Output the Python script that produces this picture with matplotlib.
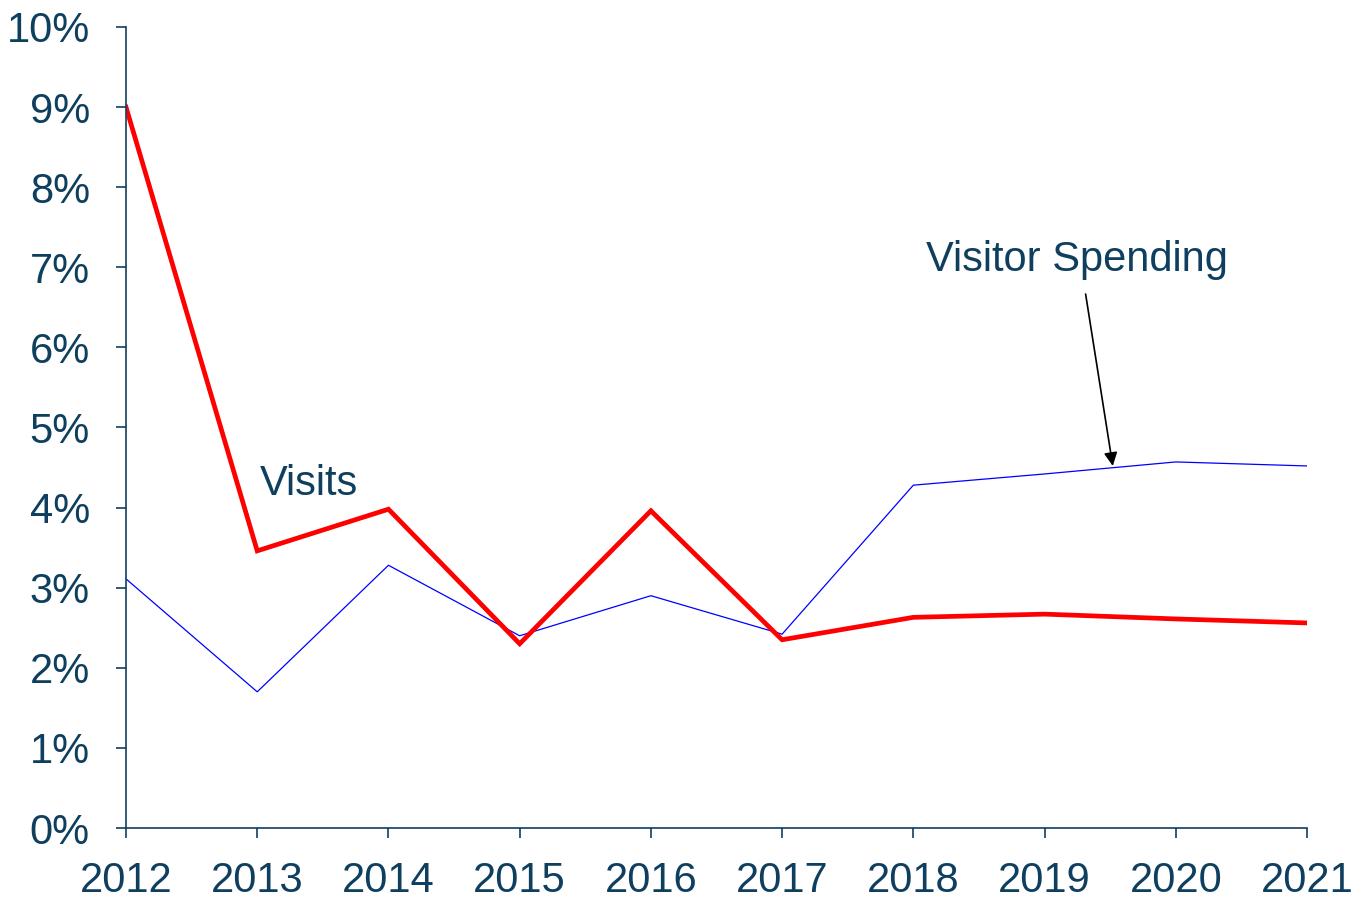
import matplotlib.pyplot as plt
from matplotlib.ticker import FuncFormatter

plt.rcParams["font.family"] = ["Liberation Sans", "DejaVu Sans"]

TEXT_COLOR = "#0F3F5F"

years = [2012, 2013, 2014, 2015, 2016, 2017, 2018, 2019, 2020, 2021]
visits = [9.0, 3.46, 3.98, 2.30, 3.96, 2.35, 2.63, 2.67, 2.61, 2.56]
spending = [3.11, 1.70, 3.28, 2.40, 2.90, 2.42, 4.28, 4.42, 4.57, 4.52]

fig = plt.figure(figsize=(13.59, 9), dpi=100)
ax = fig.add_axes([126 / 1359, 1 - 828 / 900, (1307 - 126) / 1359, (828 - 27) / 900])

ax.plot(years, spending, color="#0000FF", linewidth=0.9, solid_joinstyle="miter")
ax.plot(years, visits, color="#FF0000", linewidth=3.4, solid_joinstyle="miter")

ax.set_xlim(years[0], years[-1])
ax.set_ylim(0, 10)
ax.set_xticks(years)
ax.set_yticks(range(0, 11))
ax.yaxis.set_major_formatter(FuncFormatter(lambda v, p: f"{v:.0f}%"))

for side in ["top", "right"]:
    ax.spines[side].set_visible(False)
for side in ["left", "bottom"]:
    ax.spines[side].set_color(TEXT_COLOR)
    ax.spines[side].set_linewidth(1.2)
    ax.spines[side].set_clip_on(False)

ax.tick_params(axis="both", colors=TEXT_COLOR, labelcolor=TEXT_COLOR,
               labelsize=30, length=7, width=1.2, direction="out")
ax.tick_params(axis="y", pad=19)
ax.tick_params(axis="x", pad=17)

ax.text(2013.02, 4.16, "Visits", fontsize=30, color=TEXT_COLOR, va="baseline")
ax.annotate(
    "Visitor Spending",
    xy=(2019.52, 4.52),
    xytext=(2018.1, 6.95),
    fontsize=30,
    color=TEXT_COLOR,
    va="baseline",
    arrowprops=dict(arrowstyle="-|>", color="black", lw=1.2,
                    mutation_scale=20, shrinkA=8, shrinkB=0,
                    relpos=(0.52, 0.0)),
)

fig.savefig("out.png", dpi=100)
